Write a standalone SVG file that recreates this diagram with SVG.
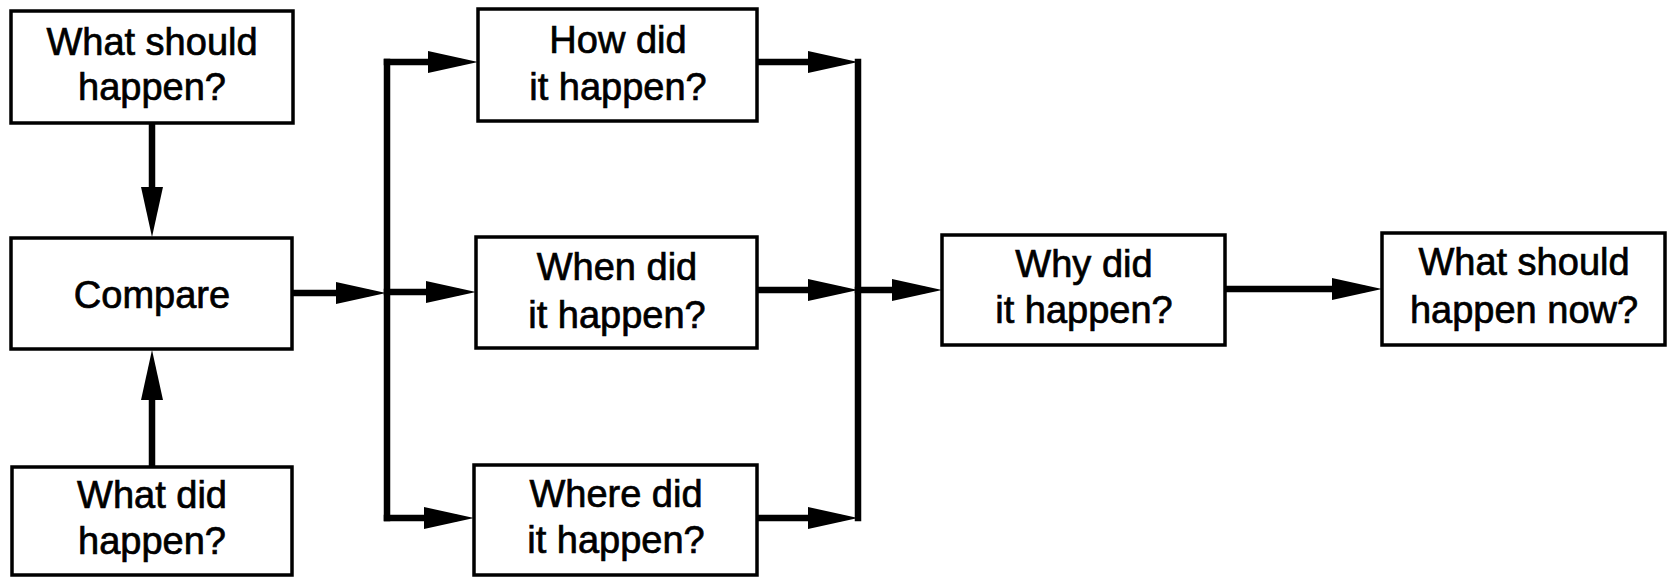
<svg xmlns="http://www.w3.org/2000/svg" width="1668" height="577" viewBox="0 0 1668 577">
<style>
.box{fill:#fff;stroke:#000;stroke-width:3.5}
.t{font-family:"Liberation Sans",Arial,sans-serif;font-size:38px;fill:#000;stroke:#000;stroke-width:0.7;text-anchor:middle}
.c{fill:none;stroke:#000;stroke-width:6.5;stroke-linecap:square}
.a{marker-end:url(#ah)}
</style>
<defs>
<marker id="ah" markerUnits="userSpaceOnUse" viewBox="0 0 50 22" refX="30" refY="11" markerWidth="50" markerHeight="22" orient="auto">
<path d="M0,0 L50,11 L0,22 Z" fill="#000"/>
</marker>
</defs>
<rect width="1668" height="577" fill="#fff"/>
<g id="connectors">
<path class="c a" d="M152,124 L152,217"/>
<path class="c a" d="M152,466 L152,370"/>
<path class="c a" d="M293,293 L366,293"/>
<path class="c" d="M387,62 L387,518"/>
<path class="c a" d="M387,62 L458,62"/>
<path class="c a" d="M387,292 L456,292"/>
<path class="c a" d="M387,518 L454,518"/>
<path class="c a" d="M758,62 L838,62"/>
<path class="c a" d="M758,290 L838,290"/>
<path class="c a" d="M758,518 L838,518"/>
<path class="c" d="M858,62 L858,518"/>
<path class="c a" d="M858,290 L922,290"/>
<path class="c a" d="M1226,289 L1362,289"/>
</g>
<g id="n1"><rect class="box" x="11" y="11" width="282" height="112"/><text class="t" x="152" y="55">What should</text><text class="t" x="152" y="100">happen?</text></g>
<g id="n2"><rect class="box" x="11" y="238" width="281" height="111"/><text class="t" x="152" y="308">Compare</text></g>
<g id="n3"><rect class="box" x="12" y="467" width="280" height="108"/><text class="t" x="152" y="508">What did</text><text class="t" x="152" y="554">happen?</text></g>
<g id="n4"><rect class="box" x="478" y="9" width="279" height="112"/><text class="t" x="618" y="53">How did</text><text class="t" x="618" y="100">it happen?</text></g>
<g id="n5"><rect class="box" x="476" y="237" width="281" height="111"/><text class="t" x="617" y="280">When did</text><text class="t" x="617" y="328">it happen?</text></g>
<g id="n6"><rect class="box" x="474" y="465" width="283" height="110"/><text class="t" x="616" y="507">Where did</text><text class="t" x="616" y="553">it happen?</text></g>
<g id="n7"><rect class="box" x="942" y="235" width="283" height="110"/><text class="t" x="1084" y="277">Why did</text><text class="t" x="1084" y="323">it happen?</text></g>
<g id="n8"><rect class="box" x="1382" y="233" width="283" height="112"/><text class="t" x="1524" y="275">What should</text><text class="t" x="1524" y="323">happen now?</text></g>
</svg>
